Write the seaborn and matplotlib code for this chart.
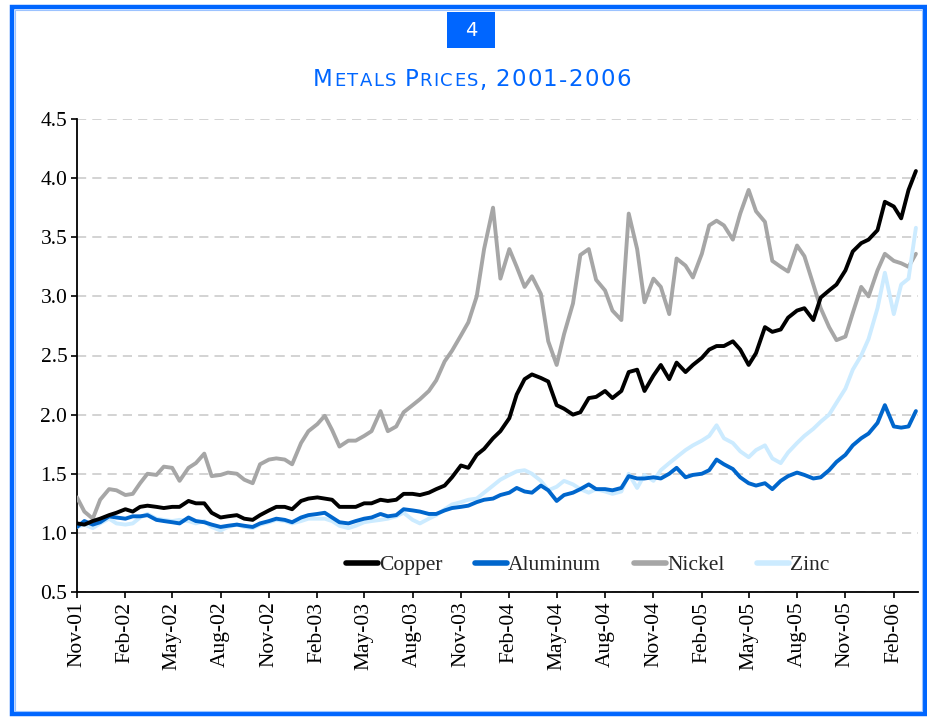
#!/usr/bin/env python3
"""Metals price index chart, 2001-2006 (Copper, Aluminum, Nickel, Zinc)."""

import matplotlib

matplotlib.use("Agg")

import matplotlib.pyplot as plt
import pandas as pd
import seaborn as sns
from matplotlib.offsetbox import AnchoredOffsetbox, HPacker, TextArea
from matplotlib.patches import Rectangle

# semi-monthly observations, 1 Nov 2001 .. 15 Mar 2006
DATES = pd.date_range("2001-11-01", "2006-03-15", freq="SMS")

COPPER = [
    1.08, 1.07, 1.10, 1.12,
    1.15, 1.17, 1.20, 1.18, 1.22, 1.23, 1.22, 1.21, 1.22, 1.22, 1.27, 1.25,
    1.25, 1.17, 1.13, 1.14, 1.15, 1.12, 1.11, 1.15, 1.19, 1.22, 1.22, 1.20,
    1.27, 1.29, 1.30, 1.29, 1.28, 1.22, 1.22, 1.22, 1.25, 1.25, 1.28, 1.27,
    1.28, 1.33, 1.33, 1.32, 1.34, 1.37, 1.40, 1.47, 1.57, 1.55, 1.66, 1.71,
    1.80, 1.86, 1.97, 2.17, 2.30, 2.34, 2.31, 2.28, 2.08, 2.05, 2.00, 2.02,
    2.14, 2.15, 2.20, 2.14, 2.20, 2.36, 2.38, 2.20, 2.33, 2.42, 2.30, 2.44,
    2.36, 2.42, 2.48, 2.55, 2.58, 2.58, 2.62, 2.55, 2.42, 2.52, 2.74, 2.70,
    2.72, 2.82, 2.88, 2.90, 2.80, 2.99, 3.05, 3.10, 3.22, 3.38, 3.45, 3.48,
    3.56, 3.80, 3.76, 3.66, 3.90, 4.06,
]
ALUMINUM = [
    1.05, 1.10, 1.07, 1.09,
    1.14, 1.13, 1.12, 1.14, 1.14, 1.15, 1.11, 1.10, 1.09, 1.08, 1.13, 1.10,
    1.09, 1.07, 1.05, 1.06, 1.07, 1.06, 1.05, 1.08, 1.10, 1.12, 1.11, 1.09,
    1.13, 1.15, 1.16, 1.17, 1.13, 1.09, 1.08, 1.10, 1.12, 1.13, 1.16, 1.14,
    1.15, 1.20, 1.19, 1.18, 1.16, 1.16, 1.19, 1.21, 1.22, 1.23, 1.26, 1.28,
    1.29, 1.32, 1.34, 1.38, 1.35, 1.34, 1.40, 1.36, 1.27, 1.32, 1.34, 1.37,
    1.41, 1.37, 1.37, 1.36, 1.38, 1.48, 1.46, 1.46, 1.47, 1.46, 1.50, 1.55,
    1.47, 1.49, 1.50, 1.53, 1.62, 1.58, 1.54, 1.47, 1.42, 1.40, 1.42, 1.37,
    1.44, 1.48, 1.51, 1.49, 1.46, 1.47, 1.53, 1.60, 1.66, 1.74, 1.80, 1.84,
    1.93, 2.08, 1.90, 1.89, 1.90, 2.03,
]
NICKEL = [
    1.30, 1.18, 1.12, 1.28,
    1.37, 1.36, 1.32, 1.33, 1.42, 1.50, 1.49, 1.56, 1.55, 1.44, 1.55, 1.59,
    1.67, 1.48, 1.49, 1.51, 1.50, 1.45, 1.42, 1.58, 1.62, 1.63, 1.62, 1.58,
    1.76, 1.86, 1.92, 1.99, 1.87, 1.73, 1.78, 1.78, 1.82, 1.86, 2.03, 1.86,
    1.90, 2.02, 2.08, 2.13, 2.20, 2.29, 2.45, 2.54, 2.67, 2.78, 3.00, 3.40,
    3.75, 3.15, 3.40, 3.25, 3.08, 3.17, 3.02, 2.62, 2.42, 2.68, 2.94, 3.35,
    3.40, 3.14, 3.05, 2.88, 2.80, 3.70, 3.40, 2.95, 3.15, 3.08, 2.85, 3.32,
    3.26, 3.16, 3.36, 3.60, 3.64, 3.60, 3.48, 3.70, 3.90, 3.72, 3.63, 3.30,
    3.25, 3.21, 3.43, 3.34, 3.10, 2.90, 2.74, 2.63, 2.66, 2.86, 3.08, 3.00,
    3.22, 3.36, 3.30, 3.28, 3.25, 3.36,
]
ZINC = [
    1.05, 1.07, 1.04, 1.08,
    1.12, 1.08, 1.07, 1.08, 1.13, 1.16, 1.12, 1.11, 1.10, 1.11, 1.10, 1.08,
    1.10, 1.05, 1.02, 1.05, 1.07, 1.05, 1.04, 1.07, 1.09, 1.11, 1.10, 1.08,
    1.10, 1.12, 1.12, 1.12, 1.10, 1.06, 1.04, 1.06, 1.09, 1.10, 1.11, 1.12,
    1.14, 1.17, 1.11, 1.08, 1.12, 1.15, 1.20, 1.24, 1.26, 1.28, 1.29, 1.34,
    1.40, 1.45, 1.49, 1.52, 1.53, 1.50, 1.44, 1.36, 1.39, 1.44, 1.41, 1.37,
    1.34, 1.37, 1.35, 1.33, 1.35, 1.50, 1.38, 1.49, 1.44, 1.53, 1.59, 1.64,
    1.70, 1.74, 1.78, 1.82, 1.91, 1.80, 1.76, 1.69, 1.64, 1.70, 1.74, 1.63,
    1.59, 1.68, 1.76, 1.82, 1.88, 1.94, 2.00, 2.10, 2.22, 2.38, 2.50, 2.64,
    2.90, 3.20, 2.85, 3.10, 3.15, 3.58,
]

METALS = ["Copper", "Aluminum", "Nickel", "Zinc"]
COLORS = {"Copper": "#000000", "Aluminum": "#0066CC", "Nickel": "#A6A6A6", "Zinc": "#CCEBFF"}
Y_TICKS = [0.5, 1.0, 1.5, 2.0, 2.5, 3.0, 3.5, 4.0, 4.5]
X_TICKS = pd.date_range("2001-11-01", "2006-02-01", freq="3MS")
BADGE = "4"
# (text, big letter?) pieces of the small-caps title
TITLE_PARTS = [("M", True), ("ETALS", False), (" ", False), ("P", True),
               ("RICES", False), (",", True), (" ", False), ("2001-2006", True)]

BLUE = "#0066FF"
SERIF = "Liberation Serif"
W, H = 928, 721


def px_box(x0, y0, x1, y1):
    """Pixel box (top-left origin) -> figure fraction rect."""
    return [x0 / W, 1 - y1 / H, (x1 - x0) / W, (y1 - y0) / H]


def build_frame() -> pd.DataFrame:
    wide = pd.DataFrame({"date": DATES, "Copper": COPPER, "Aluminum": ALUMINUM,
                         "Nickel": NICKEL, "Zinc": ZINC})
    return wide.melt(id_vars="date", var_name="metal", value_name="price")


def add_title(fig) -> None:
    pieces = []
    for text, big in TITLE_PARTS:
        size = 16.5 if big else 13
        for ch in text:
            pieces.append(TextArea(ch, textprops=dict(color=BLUE, fontsize=size,
                                                       family="DejaVu Sans")))
    packer = HPacker(children=pieces, align="baseline", pad=0, sep=1.0)
    box = AnchoredOffsetbox(loc="center", child=packer, pad=0, borderpad=0,
                            frameon=False, bbox_to_anchor=(472 / W, 1 - 80 / H),
                            bbox_transform=fig.transFigure)
    fig.add_artist(box)


def main() -> None:
    sns.set_theme(style="ticks")
    data = build_frame()

    fig = plt.figure(figsize=(W / 100, H / 100), dpi=100)
    fig.patch.set_facecolor("white")
    ax = fig.add_axes(px_box(77, 119, 918, 592))

    sns.lineplot(data=data, x="date", y="price", hue="metal", hue_order=METALS,
                 palette=COLORS, linewidth=2.8, ax=ax)
    zorders = {"Copper": 5, "Aluminum": 4, "Nickel": 3, "Zinc": 3.5}
    for line, metal in zip(ax.lines, METALS):
        line.set_zorder(zorders[metal])

    ax.set_ylim(0.5, 4.5)
    ax.set_xlim(pd.Timestamp("2001-11-01"), pd.Timestamp("2006-03-19"))
    ax.set_yticks(Y_TICKS)
    ax.set_yticklabels([f"{v:.1f}" for v in Y_TICKS], fontsize=15.5, family=SERIF)
    ax.set_xticks(X_TICKS)
    ax.set_xticklabels([d.strftime("%b-%y") for d in X_TICKS], rotation=90,
                       fontsize=15.5, family=SERIF)
    ax.set_xlabel("")
    ax.set_ylabel("")

    ax.yaxis.grid(True, linestyle=(0, (6, 4)), color="#C8C8C8", linewidth=1.1)
    ax.set_axisbelow(True)
    sns.despine(ax=ax)
    for side in ("left", "bottom"):
        ax.spines[side].set_linewidth(1.3)
        ax.spines[side].set_color("black")
    ax.tick_params(axis="both", direction="out", length=4, width=1.2,
                   colors="black", pad=3)

    handles, labels = ax.get_legend_handles_labels()
    leg = ax.legend(handles, labels, loc="center", bbox_to_anchor=(0.607, 0.057),
                    ncol=4, frameon=False, handlelength=1.5, handletextpad=0.05,
                    columnspacing=1.5, prop={"family": SERIF, "size": 15.5})
    for h in leg.get_lines():
        h.set_linewidth(4)

    # blue frame round the whole picture
    fig.add_artist(Rectangle((12 / W, 1 - 714 / H), 913 / W, 707 / H,
                             transform=fig.transFigure, fill=False,
                             edgecolor=BLUE, linewidth=3.2))
    fig.add_artist(Rectangle((15 / W, 1 - 711 / H), 907 / W, 701 / H,
                             transform=fig.transFigure, fill=False,
                             edgecolor="#9CC3FF", linewidth=0.8))

    # chart number badge
    fig.add_artist(Rectangle((447 / W, 1 - 48 / H), 48 / W, 36 / H,
                             transform=fig.transFigure, facecolor=BLUE,
                             edgecolor="none"))
    fig.text(471 / W, 1 - 31 / H, BADGE, color="white", fontsize=14,
             family="DejaVu Sans", ha="center", va="center")
    add_title(fig)

    fig.savefig("out.png", dpi=100)
    plt.close(fig)


if __name__ == "__main__":
    main()
